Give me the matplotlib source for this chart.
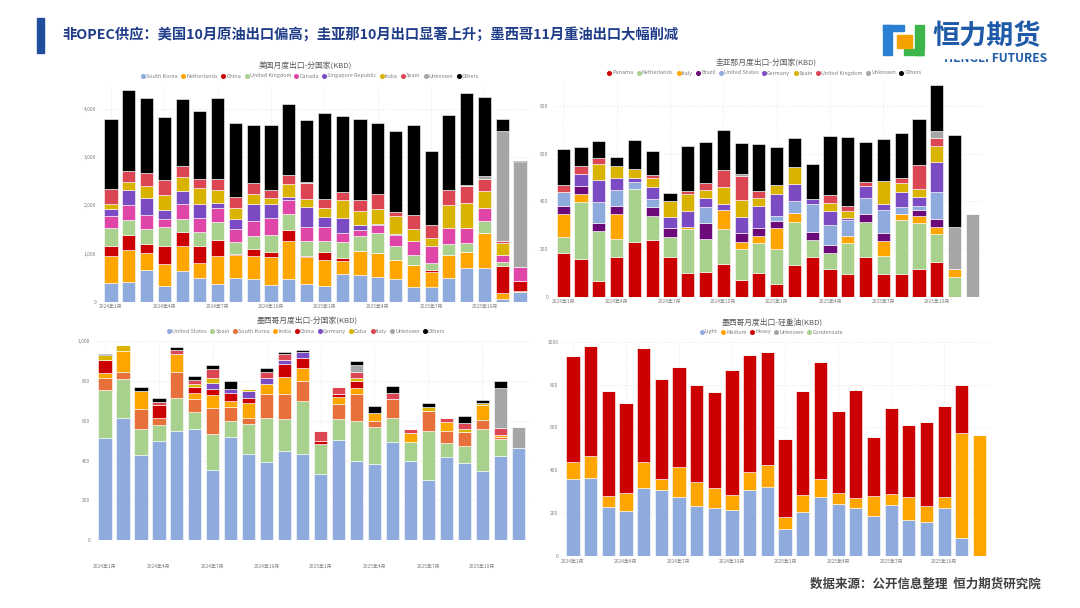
import numpy as np
import matplotlib.pyplot as plt
from matplotlib.lines import Line2D
from matplotlib.patches import Rectangle

plt.rcParams['font.family'] = ['Noto Sans CJK SC', 'DejaVu Sans']

W, H = 1080, 608

tick_labels = ["2024年1月", "2024年4月", "2024年7月", "2024年10月",
               "2025年1月", "2025年4月", "2025年7月", "2025年10月"]

# 美国 by destination (KBD), Jan-2024 .. Dec-2025
us_names = ["South Korea", "Netherlands", "China", "United Kingdom", "Canada",
            "Singapore Republic", "India", "Spain", "Unknown", "Others"]
us_south_korea = [383, 404, 662, 334, 627, 502, 376, 502, 474, 348, 474, 362, 328, 578, 557, 509, 474, 314, 314, 502, 697, 697, 56, 209]
us_netherlands = [572, 669, 348, 446, 537, 299, 579, 460, 467, 579, 780, 565, 529, 258, 488, 501, 397, 453, 299, 474, 327, 718, 118, 21]
us_china = [195, 321, 195, 370, 279, 349, 320, 35, 153, 104, 230, 28, 167, 70, 0, 0, 0, 0, 42, 0, 0, 0, 558, 202]
us_uk = [369, 292, 293, 397, 264, 299, 377, 236, 265, 363, 342, 306, 244, 327, 314, 419, 279, 209, 146, 223, 196, 257, 97, 0]
us_canada = [258, 321, 293, 174, 321, 293, 285, 279, 313, 348, 285, 293, 279, 196, 125, 160, 230, 278, 349, 334, 313, 265, 133, 286]
us_singapore = [139, 313, 355, 181, 272, 279, 119, 195, 349, 279, 63, 411, 209, 313, 105, 14, 28, 0, 0, 0, 0, 0, 0, 0]
us_india = [105, 163, 258, 307, 293, 334, 258, 230, 209, 125, 265, 160, 195, 363, 293, 327, 369, 244, 174, 474, 523, 363, 258, 0]
us_spain = [313, 227, 258, 308, 214, 197, 231, 244, 223, 168, 182, 335, 174, 174, 229, 300, 91, 300, 265, 307, 348, 238, 34, 0]
us_unknown = [0, 0, 0, 0, 0, 0, 0, 0, 0, 0, 0, 15, 0, 0, 0, 0, 0, 0, 0, 0, 16, 76, 2284, 2179]
us_others = [1466, 1690, 1572, 1324, 1400, 1407, 1676, 1536, 1209, 1348, 1489, 1291, 1785, 1576, 1682, 1487, 1670, 1864, 1542, 1569, 1904, 1641, 262, 13]

# 圭亚那 by destination
gy_names = ["Panama", "Netherlands", "Italy", "Brazil", "United States", "Germany",
            "Spain", "United Kingdom", "Unknown", "Others"]
gy_panama = [182, 159, 64, 168, 229, 236, 165, 101, 102, 137, 70, 101, 52, 131, 165, 115, 95, 165, 97, 97, 116, 145, 0, 0]
gy_netherlands = [67, 238, 212, 74, 223, 104, 87, 182, 139, 146, 130, 123, 148, 184, 73, 67, 129, 147, 74, 225, 194, 117, 81, 0]
gy_italy = [99, 34, 0, 106, 0, 0, 0, 8, 0, 81, 31, 32, 87, 35, 0, 0, 31, 0, 64, 25, 30, 32, 34, 0]
gy_brazil = [32, 33, 32, 32, 0, 35, 35, 0, 67, 0, 35, 34, 32, 0, 32, 35, 0, 36, 34, 0, 24, 30, 0, 0]
gy_us = [61, 0, 89, 68, 31, 33, 0, 0, 70, 0, 0, 0, 19, 53, 117, 84, 67, 65, 95, 31, 16, 114, 0, 0]
gy_germany = [0, 49, 91, 51, 16, 54, 49, 68, 35, 23, 70, 92, 93, 70, 22, 58, 7, 51, 25, 63, 40, 128, 0, 0]
gy_spain = [0, 0, 69, 49, 35, 35, 67, 70, 35, 75, 70, 31, 38, 72, 0, 33, 30, 0, 96, 35, 30, 68, 0, 0]
gy_uk = [29, 35, 26, 0, 0, 13, 0, 16, 30, 69, 102, 32, 0, 0, 0, 35, 21, 19, 0, 23, 101, 30, 0, 0]
gy_unknown = [0, 0, 0, 0, 0, 0, 0, 0, 0, 0, 7, 0, 0, 0, 0, 0, 0, 0, 0, 0, 0, 31, 176, 345]
gy_others = [148, 79, 70, 37, 122, 101, 33, 189, 170, 167, 131, 194, 158, 122, 148, 249, 290, 165, 177, 188, 193, 193, 387, 0]

# 墨西哥 by destination
mx_names = ["United States", "Spain", "South Korea", "India", "China", "Germany",
            "Cuba", "Italy", "Unknown", "Others"]
mx_us = [514, 615, 427, 497, 550, 558, 355, 520, 434, 392, 447, 435, 334, 502, 397, 383, 492, 400, 304, 420, 387, 350, 422, 464]
mx_spain = [239, 193, 130, 81, 162, 84, 177, 78, 149, 223, 161, 265, 147, 105, 203, 184, 120, 94, 244, 66, 85, 208, 87, 0]
mx_korea = [62, 37, 100, 34, 130, 66, 133, 69, 32, 118, 124, 100, 0, 75, 133, 31, 96, 0, 100, 64, 73, 45, 9, 0]
mx_india = [25, 105, 93, 0, 95, 29, 63, 33, 72, 49, 85, 67, 0, 35, 32, 39, 0, 43, 0, 42, 0, 75, 10, 0]
mx_china = [63, 0, 0, 66, 0, 33, 29, 40, 25, 0, 66, 48, 16, 16, 33, 0, 0, 0, 0, 0, 0, 0, 0, 0]
mx_germany = [0, 0, 0, 0, 0, 0, 33, 17, 36, 33, 20, 30, 0, 0, 0, 0, 0, 0, 0, 0, 0, 0, 0, 0]
mx_cuba = [25, 28, 0, 0, 0, 13, 25, 0, 12, 0, 0, 0, 0, 0, 17, 0, 0, 0, 22, 0, 12, 9, 0, 0]
mx_italy = [0, 0, 0, 17, 16, 20, 47, 0, 0, 30, 34, 0, 51, 34, 30, 0, 32, 21, 0, 20, 33, 0, 34, 0]
mx_unknown = [0, 0, 0, 0, 0, 0, 0, 0, 0, 0, 0, 0, 0, 0, 33, 0, 0, 0, 0, 0, 0, 0, 200, 103]
mx_others = [9, 0, 20, 17, 17, 22, 20, 41, 0, 22, 8, 8, 0, 0, 22, 38, 33, 0, 20, 0, 33, 16, 36, 0]

# 墨西哥 by grade
grade_names = ["Light", "Medium", "Heavy", "Unknown", "Condensate"]
mx_light = [358, 363, 229, 211, 316, 307, 274, 234, 222, 214, 307, 322, 126, 205, 274, 242, 222, 188, 236, 167, 157, 222, 82, 0]
mx_medium = [81, 104, 50, 85, 123, 54, 142, 109, 97, 70, 85, 103, 57, 79, 87, 54, 49, 93, 52, 109, 74, 54, 493, 566]
mx_heavy = [496, 513, 492, 417, 533, 464, 465, 454, 444, 584, 544, 528, 361, 485, 543, 380, 503, 274, 403, 336, 394, 425, 223, 0]
mx_grade_unknown = [0] * 24
mx_condensate = [0] * 24

BLUE = "#8faadc"
ORANGE = "#ffa500"
RED = "#cc0000"
GREEN = "#a9d18e"
MAGENTA = "#e046a8"
PURPLE = "#7b4bc4"
GOLD = "#d9b300"
PINK = "#dc4653"
GREY = "#a6a6a6"
BLACK = "#000000"
DPURPLE = "#6b0a78"
KOREA = "#e8703a"

fig = plt.figure(figsize=(W / 100, H / 100), dpi=100)


def rect(l, t, r, b):
    return [l / W, 1 - b / H, (r - l) / W, (b - t) / H]


def stacked(box, series, colors, names, ymax, yticks, ylabels, title, tpos, lpos, pad=2):
    ax = fig.add_axes(rect(*box))
    x = np.arange(len(series[0]))
    bottom = np.zeros(len(x))
    for vals, c in zip(series, colors):
        vals = np.array(vals, dtype=float)
        ax.bar(x, vals, 0.74, bottom=bottom, color=c, edgecolor="white", linewidth=0.4, zorder=3)
        bottom += vals
    ax.set_xlim(-0.6, len(x) - 0.4)
    ax.set_ylim(0, ymax)
    ax.set_yticks(yticks)
    ax.set_yticklabels(ylabels)
    ax.set_xticks(x[::3][:len(tick_labels)])
    ax.set_xticklabels(tick_labels)
    ax.tick_params(length=0, labelsize=3.5, colors="#7f7f7f")
    ax.tick_params(axis="x", pad=pad)
    ax.tick_params(axis="y", pad=3)
    for s in ax.spines.values():
        s.set_visible(False)
    ax.grid(True, color="#e3e3e3", linestyle=":", linewidth=0.6, zorder=0)
    ax.set_axisbelow(True)
    fig.text(tpos[0] / W, 1 - tpos[1] / H, title, ha="center", va="center",
             fontsize=5.6, color="#595959")
    handles = [Line2D([], [], marker="o", linestyle="", color=c, markersize=2.6, label=n)
               for n, c in zip(names, colors)]
    fig.legend(handles=handles, loc="center", bbox_to_anchor=(lpos[0] / W, 1 - lpos[1] / H),
               ncol=len(names), fontsize=3.9, frameon=False, handletextpad=0.05,
               columnspacing=0.5, handlelength=1.0, labelcolor="#7f7f7f",
               borderpad=0, borderaxespad=0)
    return ax


stacked((100.3, 84.8, 530.7, 301.7),
        [us_south_korea, us_netherlands, us_china, us_uk, us_canada, us_singapore,
         us_india, us_spain, us_unknown, us_others],
        [BLUE, ORANGE, RED, GREEN, MAGENTA, PURPLE, GOLD, PINK, GREY, BLACK], us_names,
        4500, [0, 1000, 2000, 3000, 4000], ["0", "1,000", "2,000", "3,000", "4,000"],
        "美国月度出口-分国家(KBD)", (305, 65), (310, 76))

stacked((552.6, 82.1, 983, 296.7),
        [gy_panama, gy_netherlands, gy_italy, gy_brazil, gy_us, gy_germany, gy_spain,
         gy_uk, gy_unknown, gy_others],
        [RED, GREEN, ORANGE, DPURPLE, BLUE, PURPLE, GOLD, PINK, GREY, BLACK], gy_names,
        900, [0, 200, 400, 600, 800], ["0", "200", "400", "600", "800"],
        "圭亚那月度出口-分国家(KBD)", (766, 62), (764, 73))

stacked((94.2, 341, 529, 540.3),
        [mx_us, mx_spain, mx_korea, mx_india, mx_china, mx_germany, mx_cuba, mx_italy,
         mx_unknown, mx_others],
        [BLUE, GREEN, KOREA, ORANGE, RED, PURPLE, GOLD, PINK, GREY, BLACK], mx_names,
        1000, [0, 200, 400, 600, 800, 1000], ["0", "200", "400", "600", "800", "1,000"],
        "墨西哥月度出口-分国家(KBD)", (307, 320), (306, 331.5), pad=17)

stacked((562.4, 341.7, 990, 556),
        [mx_light, mx_medium, mx_heavy, mx_grade_unknown, mx_condensate],
        [BLUE, ORANGE, RED, GREY, GREEN], grade_names,
        1000, [0, 200, 400, 600, 800, 1000], ["0", "200", "400", "600", "800", "1000"],
        "墨西哥月度出口-轻重油(KBD)", (772, 322), (771, 332))

# header
fig.patches.append(Rectangle((37 / W, 1 - 53 / H), 7 / W, 35 / H, transform=fig.transFigure,
                             color="#1f4e9c", zorder=1))
fig.text(62 / W, 1 - 34 / H, "非OPEC供应：美国10月原油出口偏高；圭亚那10月出口显著上升；墨西哥11月重油出口大幅削减",
         fontsize=10.3, fontweight="bold", color="#1f3c88", va="center", ha="left")

# logo
def box(l, t, r, b, c, z=2):
    fig.patches.append(Rectangle((l / W, 1 - b / H), (r - l) / W, (b - t) / H,
                                 transform=fig.transFigure, color=c, zorder=z))

box(883, 25, 892, 55, "#2a7fd4")
box(883, 25, 904, 31, "#2a7fd4")
box(915, 25, 924, 55, "#3db54a")
box(904, 49, 924, 55, "#3db54a")
box(897, 35, 912, 48, "#f5a100")
fig.text(932 / W, 1 - 36 / H, "恒力期货", fontsize=19.5, fontweight="bold", color="#1e5aa8",
         va="center", ha="left")
fig.text(1047 / W, 1 - 59 / H, "HENGLI FUTURES", fontsize=8.6, fontweight="bold", color="#1e5aa8",
         va="center", ha="right", zorder=1)
box(925, 49, 987, 58, "white", z=3)

# footer
fig.text(1041 / W, 1 - 584 / H, "数据来源：公开信息整理  恒力期货研究院", fontsize=9,
         fontweight="bold", color="#404040", va="center", ha="right")

fig.savefig("out.png", dpi=100, facecolor="white")
